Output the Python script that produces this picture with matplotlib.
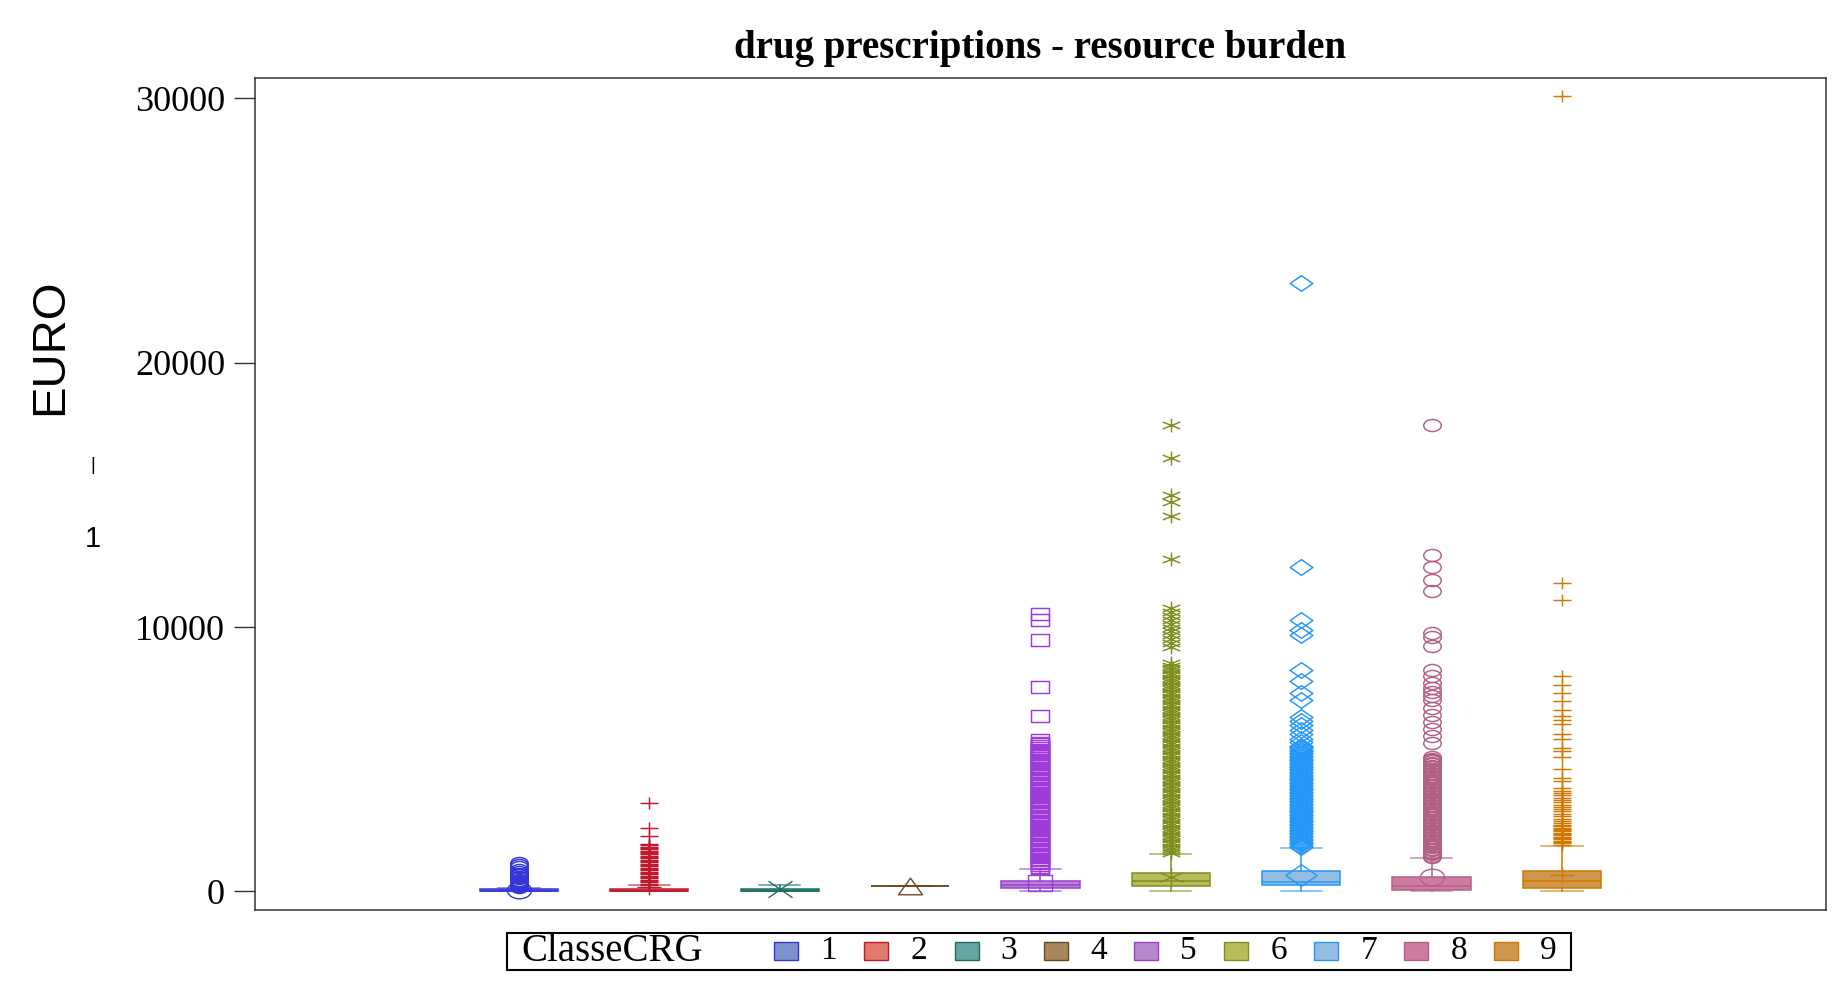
import numpy as np
import matplotlib
matplotlib.use("Agg")
import matplotlib.pyplot as plt
from matplotlib.path import Path
from matplotlib.patches import Rectangle
from matplotlib.offsetbox import AnchoredOffsetbox, HPacker, TextArea, DrawingArea

# ClasseCRG groups
classes = ['1', '2', '3', '4', '5', '6', '7', '8', '9']

# box statistics (EURO)
q1 = [0, 0, 0, 220, 140, 210, 235, 70, 145]
med = [15, 20, 25, 220, 240, 385, 372, 196, 385]
q3 = [85, 90, 95, 220, 390, 710, 775, 540, 775]
whislo = [0, 0, 0, 220, 0, 0, 0, 0, 0]
whishi = [145, 234, 240, 220, 860, 1405, 1633, 1255, 1720]
means = [40, 158, 100, 220, 310, 537, 636, 548, 624]

# outliers (the solid columns in the picture are many overlapping points)
out1 = [1090, 1000, 915, 830, 750, 680, 620, 560, 500, 450, 400, 360, 320,
        290, 260, 230, 200, 175]
out2 = [3360, 2420, 2100, 1795, 1755, 1700, 1655, 1605, 1550, 1505, 1445,
        1400, 1345, 1300, 1255, 1195, 1150, 1100, 1050, 995, 955, 900, 850,
        805, 745, 700, 650, 600, 545, 505, 450, 400, 350, 300, 260]
out3 = []
out4 = []
out5 = [10500, 10250, 9520, 7730, 6650, 5720,
        5620, 5560, 5500, 5440, 5370, 5310, 5250, 5190, 5120, 5060, 4990,
        4930, 4870, 4810, 4740, 4680, 4620, 4560, 4490, 4430, 4370, 4310,
        4240, 4180, 4120, 4060, 3990, 3930, 3870, 3810, 3740, 3680, 3620,
        3560, 3490, 3430, 3370, 3310, 3240, 3180, 3120, 3060, 2990, 2930,
        2870, 2810, 2740, 2680, 2620, 2560, 2490, 2430, 2370, 2310, 2240,
        2180, 2120, 2060, 1990, 1930, 1870, 1810, 1740, 1680, 1620, 1560,
        1490, 1430, 1370, 1310, 1240, 1180, 1120, 1060, 990, 930, 890]
out6 = [17640, 16400, 15000, 14720, 14200, 12570,
        10710, 10560, 10420, 10270, 10130, 9980, 9840, 9690, 9550, 9400,
        9260, 8630, 8540, 8450, 8360, 8270, 8180, 8090, 8000, 7910, 7820,
        7730, 7640, 7550, 7460, 7370, 7280, 7190, 7100, 7010, 6920, 6830,
        6740, 6650, 6560, 6470, 6380, 6290, 6200, 6110, 6020, 5930, 5840,
        5750, 5660, 5570, 5480, 5390, 5300, 5210, 5120, 5030, 4940, 4850,
        4760, 4670, 4580, 4490, 4400, 4310, 4220, 4130, 4040, 3950, 3860,
        3770, 3680, 3590, 3500, 3410, 3320, 3230, 3140, 3050, 2960, 2870,
        2780, 2690, 2600, 2510, 2420, 2330, 2240, 2150, 2060, 1970, 1880,
        1790, 1700, 1610, 1520, 1460]
out7 = [23000, 12260, 10250, 9880, 9700, 8380, 7950, 7500, 7230,
        6600, 6450, 6280, 6120, 5950, 5780, 5640,
        5520, 5470, 5410, 5360, 5300, 5250, 5190, 5140, 5080, 5030, 4970,
        4920, 4860, 4810, 4750, 4700, 4640, 4590, 4530, 4480, 4420, 4370,
        4310, 4260, 4200, 4150, 4090, 4040, 3980, 3930, 3870, 3820, 3760,
        3710, 3650, 3600, 3540, 3490, 3430, 3380, 3320, 3270, 3210, 3160,
        3100, 3050, 2990, 2940, 2880, 2830, 2770, 2720, 2660, 2610, 2550,
        2500, 2440, 2390, 2330, 2280, 2220, 2170, 2110, 2060, 2000, 1950,
        1890, 1840, 1780, 1730, 1680]
out8 = [17650, 12730, 12270, 11790, 11380, 9760, 9630, 9300,
        8370, 8140, 7880, 7700, 7560, 7400, 7240, 6950, 6680, 6420, 6150,
        5890, 5620,
        5090, 5030, 4980, 4920, 4870, 4810, 4760, 4700, 4650, 4590, 4540,
        4480, 4430, 4370, 4320, 4260, 4210, 4150, 4100, 4040, 3990, 3930,
        3880, 3820, 3770, 3710, 3660, 3600, 3550, 3490, 3440, 3380, 3330,
        3270, 3220, 3160, 3110, 3050, 3000, 2940, 2890, 2830, 2780, 2720,
        2670, 2610, 2560, 2500, 2450, 2390, 2340, 2280, 2230, 2170, 2120,
        2060, 2010, 1950, 1900, 1840, 1790, 1730, 1680, 1620, 1570, 1510,
        1460, 1400, 1350, 1300]
out9 = [30080, 11650, 11010, 8140, 7810, 7510, 7190, 6880, 6620, 6480,
        6350, 5960, 5760, 5430, 5300, 5090, 4630, 4300, 4170,
        3900, 3810, 3730, 3640, 3550, 3460, 3380, 3290, 3200, 3110, 3030,
        2940, 2850, 2760, 2680, 2590, 2520, 2470, 2420, 2370, 2320, 2270,
        2220, 2170, 2120, 2070, 2020, 1970, 1920, 1870, 1820, 1770]
outliers = [out1, out2, out3, out4, out5, out6, out7, out8, out9]

edge_colors = ['#3636d8', '#c0182e', '#1a6f62', '#6a4a24', '#9d3cdb',
               '#7f8e1f', '#2597fa', '#b26084', '#d17800']
fill_colors = ['#7b93cc', '#e07b6e', '#66a5a0', '#a9865b', '#b689cd',
               '#babc5a', '#94bde1', '#cd7ba1', '#cf974b']
symbols = ['circle', 'plus', 'x', 'triangle', 'square', 'asterisk',
           'diamond', 'circle', 'plus']

SX = 1.45  # markers in the original are drawn wider than tall


def marker_path(kind):
    if kind == 'circle':
        c = Path.unit_circle()
        return Path(c.vertices * [SX, 1], c.codes)
    polys = {'triangle': [(0, 1), (-1, -1), (1, -1)],
             'square': [(-1, -1), (1, -1), (1, 1), (-1, 1)],
             'diamond': [(0, 1), (1, 0), (0, -1), (-1, 0)]}
    if kind in polys:
        v = np.array(polys[kind] + [polys[kind][0]], float) * [SX, 1]
        codes = [Path.MOVETO] + [Path.LINETO] * (len(v) - 2) + [Path.CLOSEPOLY]
        return Path(v, codes)
    segs = {'plus': [[(-1, 0), (1, 0)], [(0, -1), (0, 1)]],
            'x': [[(-1, -1), (1, 1)], [(-1, 1), (1, -1)]],
            'asterisk': [[(0, -1), (0, 1)], [(-0.87, -0.5), (0.87, 0.5)],
                         [(-0.87, 0.5), (0.87, -0.5)]]}[kind]
    verts, codes = [], []
    for a, b in segs:
        verts += [a, b]
        codes += [Path.MOVETO, Path.LINETO]
    return Path(np.array(verts, float) * [SX, 1], codes)


fig = plt.figure(figsize=(18.37, 9.90), dpi=100)
ax = fig.add_axes([0.1388, 0.0808, 0.8552, 0.8401])

for i in range(len(classes)):
    ec = edge_colors[i]
    stats = [dict(med=med[i], q1=q1[i], q3=q3[i], whislo=whislo[i],
                  whishi=whishi[i], mean=means[i], fliers=outliers[i],
                  label=classes[i])]
    mk = marker_path(symbols[i])
    scale = 1.3 if symbols[i] == 'diamond' else 1.0
    ax.bxp(stats, positions=[i + 1], widths=0.6, patch_artist=True,
           showmeans=True, showfliers=True, capwidths=0.315,
           boxprops=dict(facecolor=fill_colors[i], edgecolor=ec, linewidth=1.1),
           medianprops=dict(color=ec, linewidth=1.1),
           whiskerprops=dict(color=ec, linewidth=1.1),
           capprops=dict(color=ec, linewidth=1.1, alpha=0.7),
           flierprops=dict(marker=mk, markersize=12.6 * scale,
                           markerfacecolor='none', markeredgecolor=ec,
                           markeredgewidth=1.05, linestyle='none'),
           meanprops=dict(marker=mk, markersize=17.3 * scale,
                          markerfacecolor='none', markeredgecolor=ec,
                          markeredgewidth=1.0, linestyle='none'))

ax.set_xlim(-1.025, 11.025)
ax.set_ylim(-700, 30756)
ax.set_xticks([])
ax.set_yticks([0, 10000, 20000, 30000])
ax.set_yticklabels(['0', '10000', '20000', '30000'])
ax.tick_params(axis='y', direction='out', length=15, width=1.0,
               color='#333333', pad=6.5, labelsize=26)
for lab in ax.get_yticklabels():
    lab.set_family('Liberation Serif')
for sp in ax.spines.values():
    sp.set_color('#333333')
    sp.set_linewidth(1.1)

ax.set_title('drug prescriptions - resource burden', fontsize=28,
             fontweight='bold', family='Liberation Serif', pad=14.8)

fig.text(50 / 1837, 1 - 347 / 990, 'EURO', rotation=90, ha='center',
         va='center', fontsize=34, family='Liberation Sans')
fig.text(93 / 1837, 1 - 465 / 990, '|', ha='center', va='center',
         fontsize=13, family='Liberation Sans')
fig.text(93 / 1837, 1 - 539 / 990, '1', ha='center', va='center',
         fontsize=21, family='Liberation Sans')

# legend laid out in one row, title inline
entries = []
for lab, fc, ec in zip(classes, fill_colors, edge_colors):
    da = DrawingArea(17.3, 13)
    da.add_artist(Rectangle((0, 0), 17.3, 13, facecolor=fc, edgecolor=ec,
                            linewidth=1.0))
    ta = TextArea(lab, textprops=dict(fontsize=24, family='Liberation Serif'))
    entries.append(HPacker(children=[da, ta], align='center', pad=0, sep=15.8))
row = HPacker(children=entries, align='center', pad=0, sep=19.7)
title = TextArea('ClasseCRG', textprops=dict(fontsize=28,
                                              family='Liberation Serif'))
content = HPacker(children=[DrawingArea(10, 1), title, DrawingArea(51.7, 1),
                            row, DrawingArea(10, 1)],
                  align='center', pad=0, sep=0)
leg = AnchoredOffsetbox(loc='upper center', child=content, pad=0,
                        borderpad=0, frameon=True,
                        bbox_to_anchor=(1039 / 1837, 1 - 932.7 / 990),
                        bbox_transform=fig.transFigure)
leg.patch.set_linewidth(1.5)
leg.patch.set_edgecolor('black')
fig.add_artist(leg)

plt.savefig('out.png', dpi=100)
